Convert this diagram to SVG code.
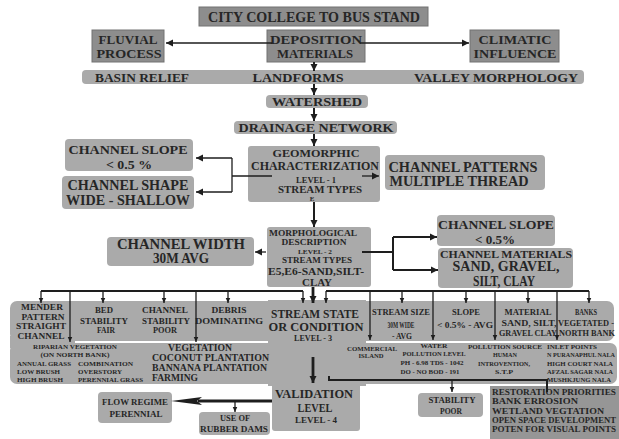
<svg xmlns="http://www.w3.org/2000/svg" width="619" height="439" viewBox="0 0 619 439">
<defs>
<style>
text{font-family:"Liberation Serif","DejaVu Serif",serif;font-weight:bold;fill:#262626;text-anchor:middle}
.s{text-anchor:start}
.dk{fill:#8d8d8d;stroke:#727272;stroke-width:1}
.lt{fill:#aaaaaa}
.ln{stroke:#1e1e1e;stroke-width:1.3;fill:none}
.md{stroke:#1e1e1e;stroke-width:2;fill:none}
.th{stroke:#1e1e1e;stroke-width:2.8;fill:none}
.f14{font-size:14px}.f13{font-size:13px}.f15{font-size:15px}.f12{font-size:12px}.f11{font-size:11px}
.f9{font-size:9px}.f8{font-size:8px}.f7{font-size:7px}.f6{font-size:6px}.f10{font-size:10px}.f85{font-size:8.5px}
</style>
<marker id="ah" markerUnits="userSpaceOnUse" markerWidth="8" markerHeight="8" refX="7" refY="4" orient="auto" viewBox="0 0 8 8"><path d="M0,0.5 L7,4 L0,7.5 z" fill="#1e1e1e"/></marker>
<marker id="as" markerUnits="userSpaceOnUse" markerWidth="6" markerHeight="6" refX="5.5" refY="3" orient="auto" viewBox="0 0 6 6"><path d="M0,0.5 L5.5,3 L0,5.5 z" fill="#1e1e1e"/></marker>
</defs>
<rect width="619" height="439" fill="#fff"/>

<g id="title"><rect class="dk" x="199" y="7" width="229" height="19"/><text class="f14" x="314" y="22" textLength="212" lengthAdjust="spacingAndGlyphs">CITY COLLEGE TO BUS STAND</text></g>
<g id="fluvial"><rect class="dk" x="92" y="30" width="72" height="32"/><text class="f13" x="128" y="44" textLength="59" lengthAdjust="spacingAndGlyphs">FLUVIAL</text><text class="f13" x="129" y="58" textLength="65" lengthAdjust="spacingAndGlyphs">PROCESS</text></g>
<g id="deposition"><rect class="dk" x="267" y="30" width="98" height="32"/><text class="f13" x="316" y="44" textLength="92" lengthAdjust="spacingAndGlyphs">DEPOSITION</text><text class="f13" x="315" y="58" textLength="76" lengthAdjust="spacingAndGlyphs">MATERIALS</text></g>
<g id="climatic"><rect class="dk" x="470" y="30" width="89" height="32"/><text class="f13" x="515" y="44" textLength="73" lengthAdjust="spacingAndGlyphs">CLIMATIC</text><text class="f13" x="515" y="58" textLength="83" lengthAdjust="spacingAndGlyphs">INFLUENCE</text></g>
<g id="landforms"><rect class="lt" x="82" y="70" width="502" height="14" rx="4"/><text class="f13" x="142" y="82" textLength="94" lengthAdjust="spacingAndGlyphs">BASIN RELIEF</text><text class="f13" x="298" y="82" textLength="91" lengthAdjust="spacingAndGlyphs">LANDFORMS</text><text class="f13" x="496" y="82" textLength="164" lengthAdjust="spacingAndGlyphs">VALLEY MORPHOLOGY</text></g>
<g id="watershed"><rect class="lt" x="266" y="95" width="102" height="13" rx="4"/><text class="f12" x="317" y="106" textLength="90" lengthAdjust="spacingAndGlyphs">WATERSHED</text></g>
<g id="drainage"><rect class="lt" x="234" y="121" width="163" height="13" rx="4"/><text class="f12" x="316" y="132" textLength="155" lengthAdjust="spacingAndGlyphs">DRAINAGE NETWORK</text></g>
<g id="geomorphic"><rect class="lt" x="248" y="146" width="132" height="56" rx="3"/><text class="f11" x="316" y="157" textLength="87" lengthAdjust="spacingAndGlyphs">GEOMORPHIC</text><text class="f12" x="315" y="170" textLength="128" lengthAdjust="spacingAndGlyphs">CHARACTERIZATION</text><text class="f8" x="316" y="183" textLength="40" lengthAdjust="spacingAndGlyphs">LEVEL - 1</text><text class="f10" x="320" y="193" textLength="84" lengthAdjust="spacingAndGlyphs">STREAM TYPES</text><text class="f7" x="312" y="201">E</text></g>
<g id="slope-left"><rect class="lt" x="65" y="139" width="128" height="32" rx="4"/><text class="f13" x="128" y="154" textLength="119" lengthAdjust="spacingAndGlyphs">CHANNEL SLOPE</text><text class="f13" x="129" y="169" textLength="46" lengthAdjust="spacingAndGlyphs">&lt; 0.5 %</text></g>
<g id="shape"><rect class="lt" x="62" y="176" width="132" height="33" rx="4"/><text class="f14" x="128" y="190" textLength="121" lengthAdjust="spacingAndGlyphs">CHANNEL SHAPE</text><text class="f14" x="128" y="205" textLength="124" lengthAdjust="spacingAndGlyphs">WIDE - SHALLOW</text></g>
<g id="patterns"><rect class="lt" x="385" y="155" width="160" height="35" rx="4"/><text class="f14" x="463" y="172" textLength="149" lengthAdjust="spacingAndGlyphs">CHANNEL PATTERNS</text><text class="f14" x="459" y="186" textLength="139" lengthAdjust="spacingAndGlyphs">MULTIPLE THREAD</text></g>
<g id="morphological"><rect class="lt" x="267" y="227" width="104" height="60" rx="3"/><text class="f8" x="313" y="236" textLength="88" lengthAdjust="spacingAndGlyphs">MORPHOLOGICAL</text><text class="f8" x="314" y="245" textLength="65" lengthAdjust="spacingAndGlyphs">DESCRIPTION</text><text class="f7" x="315" y="254" textLength="34" lengthAdjust="spacingAndGlyphs">LEVEL - 2</text><text class="f8" x="317" y="263" textLength="70" lengthAdjust="spacingAndGlyphs">STREAM TYPES</text><text class="f11" x="316" y="275" textLength="96" lengthAdjust="spacingAndGlyphs">E5,E6-SAND,SILT-</text><text class="f11" x="317" y="286" textLength="30" lengthAdjust="spacingAndGlyphs">CLAY</text></g>
<g id="width"><rect class="lt" x="107" y="237" width="147" height="29" rx="4"/><text class="f14" x="181" y="249" textLength="128" lengthAdjust="spacingAndGlyphs">CHANNEL WIDTH</text><text class="f14" x="181" y="263" textLength="56" lengthAdjust="spacingAndGlyphs">30M AVG</text></g>
<g id="slope-right"><rect class="lt" x="437" y="215" width="118" height="31" rx="4"/><text class="f13" x="496" y="229" textLength="116" lengthAdjust="spacingAndGlyphs">CHANNEL SLOPE</text><text class="f13" x="495" y="244" textLength="40" lengthAdjust="spacingAndGlyphs">&lt; 0.5%</text></g>
<g id="materials"><rect class="lt" x="438" y="248" width="135" height="40" rx="4"/><text class="f11" x="506" y="258" textLength="132" lengthAdjust="spacingAndGlyphs">CHANNEL MATERIALS</text><text class="f14" x="506" y="271" textLength="107" lengthAdjust="spacingAndGlyphs">SAND, GRAVEL,</text><text class="f14" x="504" y="286" textLength="62" lengthAdjust="spacingAndGlyphs">SILT, CLAY</text></g>

<g id="level3-bands">
<rect class="lt" x="10" y="301" width="604" height="40" rx="7"/>
<rect class="lt" x="10" y="343" width="607" height="41" rx="7"/>
<rect class="lt" x="10" y="336" width="65" height="12"/>
<rect class="lt" x="268" y="300" width="98" height="86"/>
<rect class="lt" x="272" y="380" width="88" height="51" rx="3"/>
</g>
<g id="mender"><text class="f8" x="42" y="310" textLength="42" lengthAdjust="spacingAndGlyphs">MENDER</text><text class="f8" x="43" y="320" textLength="43" lengthAdjust="spacingAndGlyphs">PATTERN</text><text class="f8" x="41" y="329" textLength="50" lengthAdjust="spacingAndGlyphs">STRAIGHT</text><text class="f8" x="41" y="339" textLength="47" lengthAdjust="spacingAndGlyphs">CHANNEL</text></g>
<g id="bed"><text class="f8" x="104" y="313" textLength="18" lengthAdjust="spacingAndGlyphs">BED</text><text class="f8" x="104" y="324" textLength="48" lengthAdjust="spacingAndGlyphs">STABILITY</text><text class="f8" x="106" y="333" textLength="18" lengthAdjust="spacingAndGlyphs">FAIR</text></g>
<g id="channel-stability"><text class="f8" x="165" y="313" textLength="46" lengthAdjust="spacingAndGlyphs">CHANNEL</text><text class="f8" x="166" y="324" textLength="48" lengthAdjust="spacingAndGlyphs">STABILITY</text><text class="f8" x="165" y="333" textLength="24" lengthAdjust="spacingAndGlyphs">POOR</text></g>
<g id="debris"><text class="f8" x="229" y="313" textLength="35" lengthAdjust="spacingAndGlyphs">DEBRIS</text><text class="f8" x="229" y="324" textLength="68" lengthAdjust="spacingAndGlyphs">DOMINATING</text></g>
<g id="stream-state"><text class="f12" x="315" y="318" textLength="88" lengthAdjust="spacingAndGlyphs">STREAM STATE</text><text class="f12" x="316" y="331" textLength="95" lengthAdjust="spacingAndGlyphs">OR CONDITION</text><text class="f8" x="313" y="341" textLength="38" lengthAdjust="spacingAndGlyphs">LEVEL - 3</text></g>
<g id="stream-size"><text class="f8" x="401" y="315" textLength="58" lengthAdjust="spacingAndGlyphs">STREAM SIZE</text><text class="f8" x="401" y="328" textLength="27" lengthAdjust="spacingAndGlyphs">30M WIDE</text><text class="f8" x="402" y="339" textLength="20" lengthAdjust="spacingAndGlyphs">- AVG</text></g>
<g id="slope3"><text class="f8" x="466" y="315" textLength="28" lengthAdjust="spacingAndGlyphs">SLOPE</text><text class="f8" x="465" y="328" textLength="56" lengthAdjust="spacingAndGlyphs">&lt; 0.5% - AVG</text></g>
<g id="material3"><text class="f8" x="528" y="315" textLength="47" lengthAdjust="spacingAndGlyphs">MATERIAL</text><text class="f8" x="529" y="326" textLength="55" lengthAdjust="spacingAndGlyphs">SAND, SILT,</text><text class="f8" x="528" y="336" textLength="58" lengthAdjust="spacingAndGlyphs">GRAVEL CLAY</text></g>
<g id="banks"><text class="f8" x="586" y="315" textLength="22" lengthAdjust="spacingAndGlyphs">BANKS</text><text class="f8" x="586" y="326" textLength="56" lengthAdjust="spacingAndGlyphs">VEGETATED -</text><text class="f8" x="587" y="336" textLength="56" lengthAdjust="spacingAndGlyphs">NORTH BANK</text></g>

<g id="riparian"><text class="f6" x="75" y="349" textLength="84" lengthAdjust="spacingAndGlyphs">RIPARIAN VEGETATION</text><text class="f6" x="75" y="357" textLength="69" lengthAdjust="spacingAndGlyphs">(ON NORTH BANK)</text>
<text class="f6 s" x="17" y="366" textLength="54" lengthAdjust="spacingAndGlyphs">ANNUAL GRASS</text><text class="f6 s" x="17" y="374" textLength="43" lengthAdjust="spacingAndGlyphs">LOW BRUSH</text><text class="f6 s" x="17" y="382" textLength="46" lengthAdjust="spacingAndGlyphs">HIGH BRUSH</text>
<text class="f6 s" x="78" y="366" textLength="55" lengthAdjust="spacingAndGlyphs">COMBINATION</text><text class="f6 s" x="78" y="374" textLength="44" lengthAdjust="spacingAndGlyphs">OVERSTORY</text><text class="f6 s" x="78" y="382" textLength="65" lengthAdjust="spacingAndGlyphs">PERENNIAL GRASS</text></g>
<g id="vegetation"><text class="f10" x="200" y="351" textLength="64" lengthAdjust="spacingAndGlyphs">VEGETATION</text><text class="f10 s" x="152" y="361" textLength="117" lengthAdjust="spacingAndGlyphs">COCONUT PLANTATION</text><text class="f10 s" x="152" y="371" textLength="115" lengthAdjust="spacingAndGlyphs">BANNANA PLANTATION</text><text class="f10 s" x="152" y="381" textLength="46" lengthAdjust="spacingAndGlyphs">FARMING</text></g>
<g id="commercial"><text class="f6" x="372" y="351" textLength="50" lengthAdjust="spacingAndGlyphs">COMMERCIAL</text><text class="f6" x="371" y="358" textLength="25" lengthAdjust="spacingAndGlyphs">ISLAND</text></g>
<g id="water"><text class="f6" x="434" y="348" textLength="27" lengthAdjust="spacingAndGlyphs">WATER</text><text class="f6" x="434" y="356" textLength="63" lengthAdjust="spacingAndGlyphs">POLLUTION LEVEL</text><text class="f6" x="432" y="365" textLength="63" lengthAdjust="spacingAndGlyphs">PH - 6.98 TDS - 1042</text><text class="f6" x="430" y="374" textLength="59" lengthAdjust="spacingAndGlyphs">DO - NO BOD - 191</text></g>
<g id="pollution-source"><text class="f6" x="505" y="349" textLength="74" lengthAdjust="spacingAndGlyphs">POLLUTION SOURCE</text><text class="f6" x="505" y="357" textLength="24" lengthAdjust="spacingAndGlyphs">HUMAN</text><text class="f6" x="504" y="366" textLength="52" lengthAdjust="spacingAndGlyphs">INTROVENTION,</text><text class="f6" x="504" y="374" textLength="18" lengthAdjust="spacingAndGlyphs">S.T.P</text></g>
<g id="inlet-points"><text class="f6 s" x="547" y="349" textLength="50" lengthAdjust="spacingAndGlyphs">INLET POINTS</text><text class="f6 s" x="547" y="357" textLength="68" lengthAdjust="spacingAndGlyphs">N PURANAPHUL NALA</text><text class="f6 s" x="547" y="366" textLength="66" lengthAdjust="spacingAndGlyphs">HIGH COURT NALA</text><text class="f6 s" x="547" y="374" textLength="66" lengthAdjust="spacingAndGlyphs">AFZAL SAGAR NALA</text><text class="f6 s" x="547" y="382" textLength="64" lengthAdjust="spacingAndGlyphs">MUSHKJUNG NALA</text></g>

<g id="validation"><text class="f13" x="314" y="398" textLength="78" lengthAdjust="spacingAndGlyphs">VALIDATION</text><text class="f13" x="315" y="412" textLength="35" lengthAdjust="spacingAndGlyphs">LEVEL</text><text class="f8" x="316" y="423" textLength="42" lengthAdjust="spacingAndGlyphs">LEVEL - 4</text></g>
<g id="flow-regime"><rect class="lt" x="98" y="392" width="74" height="31" rx="4"/><text class="f9" x="135" y="405" textLength="66" lengthAdjust="spacingAndGlyphs">FLOW REGIME</text><text class="f9" x="136" y="417" textLength="53" lengthAdjust="spacingAndGlyphs">PERENNIAL</text></g>
<g id="rubber-dams"><rect class="lt" x="199" y="412" width="71" height="23" rx="4"/><text class="f8" x="235" y="421" textLength="30" lengthAdjust="spacingAndGlyphs">USE OF</text><text class="f9" x="234" y="432" textLength="68" lengthAdjust="spacingAndGlyphs">RUBBER DAMS</text></g>
<g id="stability"><rect class="lt" x="418" y="393" width="65" height="24" rx="4"/><text class="f9" x="452" y="403" textLength="47" lengthAdjust="spacingAndGlyphs">STABILITY</text><text class="f9" x="451" y="414" textLength="22" lengthAdjust="spacingAndGlyphs">POOR</text></g>
<g id="restoration"><rect x="490" y="386" width="129" height="53" fill="#969696"/>
<text class="f85 s" x="492" y="395" textLength="124" lengthAdjust="spacingAndGlyphs">RESTORATION PRIORITIES</text><text class="f85 s" x="492" y="404" textLength="86" lengthAdjust="spacingAndGlyphs">BANK ERROSION</text><text class="f85 s" x="492" y="414" textLength="112" lengthAdjust="spacingAndGlyphs">WETLAND VEGTATION</text><text class="f85 s" x="492" y="423" textLength="124" lengthAdjust="spacingAndGlyphs">OPEN SPACE DEVELOPMENT</text><text class="f85 s" x="492" y="432" textLength="124" lengthAdjust="spacingAndGlyphs">POTEN FOR VISUAL POINTS</text></g>

<g id="connectors">
<line class="ln" x1="272" y1="43" x2="166" y2="43" marker-end="url(#ah)"/>
<line class="ln" x1="360" y1="43" x2="469" y2="43" marker-end="url(#ah)"/>
<line class="md" x1="314" y1="62" x2="314" y2="71" marker-end="url(#ah)"/>
<line class="md" x1="314" y1="84" x2="314" y2="95" marker-end="url(#ah)"/>
<line class="md" x1="314" y1="108" x2="314" y2="121" marker-end="url(#ah)"/>
<line class="md" x1="314" y1="134" x2="314" y2="146" marker-end="url(#ah)"/>
<line class="md" x1="314" y1="202" x2="314" y2="227" marker-end="url(#ah)"/>
<path class="ln" d="M272,176 H232 M232,158 V192"/>
<line class="ln" x1="232" y1="158" x2="196" y2="158" marker-end="url(#ah)"/>
<line class="ln" x1="232" y1="192" x2="196" y2="192" marker-end="url(#ah)"/>
<line class="ln" x1="362" y1="176" x2="379" y2="176" marker-end="url(#ah)"/>
<line class="ln" x1="266" y1="252" x2="255" y2="252" marker-end="url(#ah)"/>
<path class="md" d="M362,252 H393 M393,237 V270"/>
<line class="md" x1="393" y1="237" x2="437" y2="237" marker-end="url(#ah)"/>
<line class="md" x1="393" y1="270" x2="438" y2="270" marker-end="url(#ah)"/>
<path class="md" d="M41,291 H303 M326,291 H589"/>
<line class="ln" x1="41" y1="291" x2="41" y2="303" marker-end="url(#as)"/>
<line class="ln" x1="103" y1="291" x2="103" y2="303" marker-end="url(#as)"/>
<line class="ln" x1="164" y1="291" x2="164" y2="303" marker-end="url(#as)"/>
<line class="ln" x1="228" y1="291" x2="228" y2="303" marker-end="url(#as)"/>
<line class="ln" x1="303" y1="291" x2="303" y2="303" marker-end="url(#as)"/>
<line class="ln" x1="326" y1="291" x2="326" y2="303" marker-end="url(#as)"/>
<line class="ln" x1="402" y1="291" x2="402" y2="303" marker-end="url(#as)"/>
<line class="ln" x1="466" y1="291" x2="466" y2="303" marker-end="url(#as)"/>
<line class="ln" x1="528" y1="291" x2="528" y2="303" marker-end="url(#as)"/>
<line class="ln" x1="589" y1="291" x2="589" y2="303" marker-end="url(#as)"/>
<line class="ln" x1="70" y1="291" x2="70" y2="342" marker-end="url(#as)"/>
<line class="ln" x1="196" y1="291" x2="196" y2="342" marker-end="url(#as)"/>
<line class="ln" x1="370" y1="291" x2="370" y2="340" marker-end="url(#as)"/>
<line class="ln" x1="433" y1="291" x2="433" y2="340" marker-end="url(#as)"/>
<line class="ln" x1="495" y1="291" x2="495" y2="340" marker-end="url(#as)"/>
<line class="ln" x1="557" y1="291" x2="557" y2="340" marker-end="url(#as)"/>
<line class="th" x1="313" y1="287" x2="313" y2="303" marker-end="url(#ah)"/>
<line class="th" x1="313" y1="357" x2="313" y2="383" marker-end="url(#ah)"/>
<path class="md" d="M329,376 V380 H547 V392"/>
<line class="ln" x1="452" y1="380" x2="452" y2="392" marker-end="url(#as)"/>
<line class="th" x1="272" y1="401" x2="198" y2="401"/>
<polygon points="171,401 202,397 197,401 202,405" fill="#1e1e1e"/>
<line class="ln" x1="235" y1="401" x2="235" y2="412" marker-end="url(#as)"/>
</g>
</svg>
